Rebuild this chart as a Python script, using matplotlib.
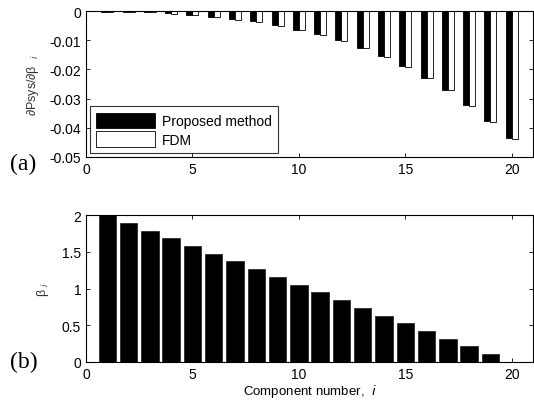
import numpy as np
import matplotlib
matplotlib.use('Agg')
import matplotlib.pyplot as plt

plt.rcParams['font.family'] = ['Liberation Sans', 'DejaVu Sans']

# component index and values
comp = np.arange(1, 21)
sens_proposed = [-0.0002, -0.0003, -0.0005, -0.0008, -0.0014, -0.0020, -0.0026, -0.0034,
                 -0.0048, -0.0064, -0.0080, -0.0101, -0.0128, -0.0155, -0.0189, -0.0228,
                 -0.0272, -0.0321, -0.0376, -0.0436]
sens_fdm = [-0.0002, -0.0003, -0.0005, -0.0010, -0.0014, -0.0021, -0.0030, -0.0037,
            -0.0052, -0.0064, -0.0082, -0.0104, -0.0128, -0.0158, -0.0191, -0.0230,
            -0.0272, -0.0325, -0.0379, -0.0438]
beta = [2.0, 1.895, 1.789, 1.684, 1.579, 1.474, 1.368, 1.263, 1.158, 1.053,
        0.947, 0.842, 0.737, 0.632, 0.526, 0.421, 0.316, 0.211, 0.105, 0.0]

fig = plt.figure(figsize=[5.34, 4.02], dpi=100)
W, H = 534.0, 402.0

'''panel (a)'''
ax1 = fig.add_axes([86/W, 1-158/H, 447/W, 146/H])
ax1.bar(comp - 0.14, sens_proposed, width=0.28, color='k', edgecolor='k', linewidth=0.6,
        label='Proposed method')
ax1.bar(comp + 0.14, sens_fdm, width=0.28, color='w', edgecolor='k', linewidth=0.6,
        label='FDM')
ax1.set_xlim(0, 21)
ax1.set_ylim(-0.05, 0)
ax1.set_xticks([0, 5, 10, 15, 20])
ax1.set_yticks([0, -0.01, -0.02, -0.03, -0.04, -0.05])
ax1.set_yticklabels(['0', '-0.01', '-0.02', '-0.03', '-0.04', '-0.05'])
ax1.set_ylabel('∂Psys/∂β  $_{i}$', fontsize=9, color='#333333', labelpad=6)
leg = ax1.legend(loc='lower left', fontsize=10, frameon=True, fancybox=False,
                 handlelength=4.2, handleheight=1.3, borderpad=0.45, labelspacing=0.25,
                 handletextpad=0.5, borderaxespad=0.3)
leg.get_frame().set_edgecolor('k')
leg.get_frame().set_linewidth(0.8)
fig.text(10/W, 1-164/H, '(a)', fontsize=17, family='Liberation Serif', va='center')

'''panel (b)'''
ax2 = fig.add_axes([86/W, 1-363/H, 447/W, 147/H])
ax2.bar(comp, beta, width=0.82, color='k', edgecolor='k', linewidth=0.4)
ax2.set_xlim(0, 21)
ax2.set_ylim(0, 2)
ax2.set_xticks([0, 5, 10, 15, 20])
ax2.set_yticks([0, 0.5, 1, 1.5, 2])
ax2.set_yticklabels(['0', '0.5', '1', '1.5', '2'])
ax2.set_ylabel('β $_{i}$', fontsize=9, color='#333333', labelpad=8)
ax2.set_xlabel('Component number,  $i$', fontsize=9.5, labelpad=1)
fig.text(10/W, 1-362/H, '(b)', fontsize=17, family='Liberation Serif', va='center')

for ax in (ax1, ax2):
    ax.tick_params(direction='in', top=True, right=True, labelsize=10, length=3, width=0.6)
    for s in ax.spines.values():
        s.set_linewidth(0.8)

plt.savefig('out.png', dpi=100)
